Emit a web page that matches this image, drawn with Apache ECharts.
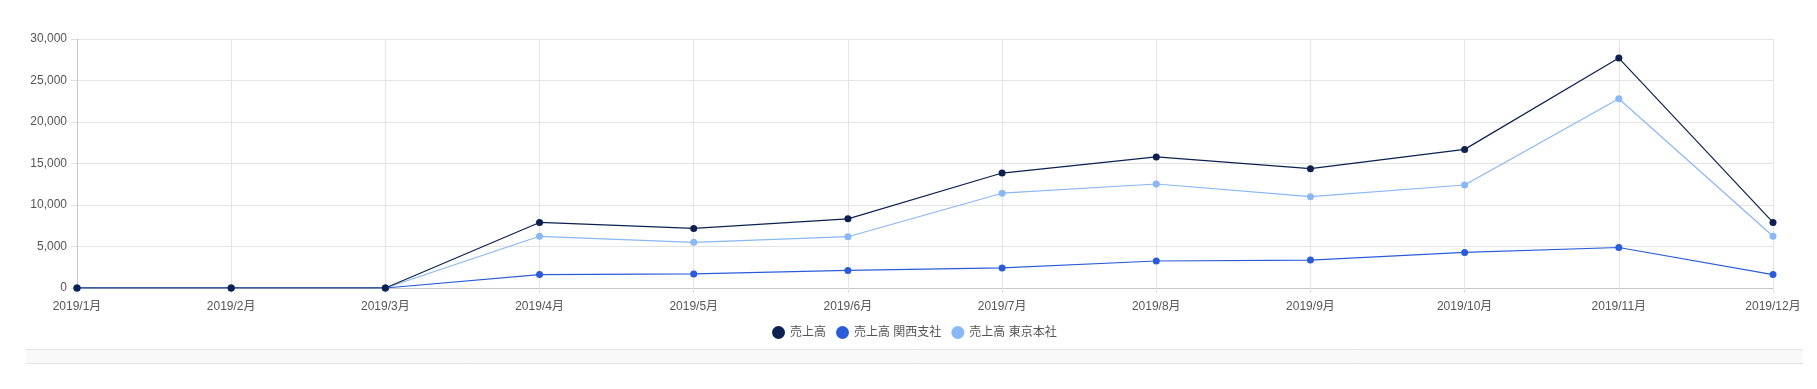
<!DOCTYPE html>
<html>
<head>
<meta charset="utf-8">
<script src="https://cdn.jsdelivr.net/npm/echarts@6/dist/echarts.min.js"></script>
<style>
html,body{margin:0;padding:0;background:#fff;}
#c{width:1817px;height:389px;}
</style>
</head>
<body>
<div id="c"></div>
<script>
const categories = ['2019/1月','2019/2月','2019/3月','2019/4月','2019/5月','2019/6月','2019/7月','2019/8月','2019/9月','2019/10月','2019/11月','2019/12月'];
const seriesNames = ['売上高','売上高 関西支社','売上高 東京本社'];
const totalSales = [0, 0, 0, 7900, 7180, 8330, 13850, 15790, 14380, 16700, 27700, 7900];
const kansaiSales = [0, 0, 0, 1620, 1690, 2120, 2420, 3250, 3370, 4290, 4880, 1620];
const tokyoSales = [0, 0, 0, 6230, 5500, 6180, 11420, 12530, 11000, 12410, 22800, 6230];
const yTicks = {min: 0, max: 30000, interval: 5000};
const colors = ['#0c2150', '#2b5cd8', '#8ab7f5'];

const chart = echarts.init(document.getElementById('c'), null, {renderer: 'canvas'});
const font = '"Liberation Sans","Noto Sans CJK JP",Arial,sans-serif';
function mk(name, data, color, z){
  return {
    name, type: 'line', data, z,
    symbol: 'circle', symbolSize: 7,
    showSymbol: true,
    lineStyle: {color, width: 1.2},
    itemStyle: {color},
    emphasis: {disabled: true},
    animation: false
  };
}
chart.setOption({
  animation: false,
  color: colors,
  textStyle: {fontFamily: font},
  grid: {left: 77, right: 44, top: 39, bottom: 101, containLabel: false},
  legend: {
    data: seriesNames,
    top: 321, left: 767,
    icon: 'circle', itemWidth: 13, itemHeight: 13, itemGap: 10,
    textStyle: {color: '#555', fontSize: 12, fontFamily: font}
  },
  xAxis: {
    type: 'category', data: categories, boundaryGap: false,
    axisLine: {lineStyle: {color: '#c8c8c8'}},
    axisTick: {show: true, length: 5, lineStyle: {color: '#e0e0e0'}},
    splitLine: {show: true, lineStyle: {color: '#e4e4e4'}},
    axisLabel: {color: '#555', fontSize: 12, margin: 13, interval: 0, fontFamily: font}
  },
  yAxis: {
    type: 'value', min: yTicks.min, max: yTicks.max, interval: yTicks.interval,
    axisLine: {show: true, lineStyle: {color: '#c8c8c8'}},
    axisTick: {show: true, length: 6, lineStyle: {color: '#e0e0e0'}},
    splitLine: {show: true, lineStyle: {color: '#e4e4e4'}},
    axisLabel: {color: '#555', fontSize: 12, margin: 10, fontFamily: font,
      formatter: v => v.toLocaleString('en-US')}
  },
  graphic: [
    {type: 'rect', left: 26, top: 349, shape: {width: 1777, height: 14},
     style: {fill: '#f9f9f9'}, silent: true},
    {type: 'line', shape: {x1: 26, y1: 349.5, x2: 1803, y2: 349.5},
     style: {stroke: '#e4e4e4', lineWidth: 1}, silent: true},
    {type: 'line', shape: {x1: 26, y1: 363.5, x2: 1803, y2: 363.5},
     style: {stroke: '#e4e4e4', lineWidth: 1}, silent: true}
  ],
  series: [
    mk(seriesNames[0], totalSales, colors[0], 5),
    mk(seriesNames[1], kansaiSales, colors[1], 4),
    mk(seriesNames[2], tokyoSales, colors[2], 3)
  ]
});
</script>
</body>
</html>
